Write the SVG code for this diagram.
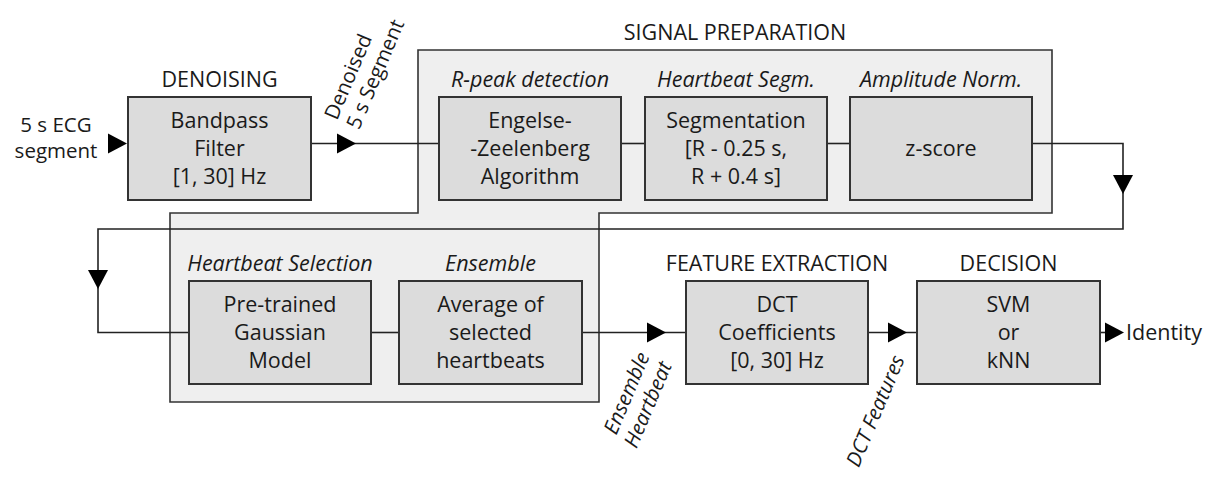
<svg xmlns="http://www.w3.org/2000/svg" width="1214" height="478" viewBox="0 0 1214 478">
<style>
text{font-family:"Open Sans","Liberation Sans",Arial,sans-serif;font-size:21.5px;fill:#1a1a1a}
.c{text-anchor:middle}
.i{font-style:italic}
.s{font-size:20.5px}
.box{fill:#dcdcdc;stroke:#333;stroke-width:2}
.panel{fill:#efefef;stroke:#333;stroke-width:1.6}
.ln{fill:none;stroke:#222;stroke-width:1.6}
.ar{fill:#000}
</style>
<defs>
<path id="tri" d="M0,-10 L19,0 L0,10 Z"/>
</defs>
<rect width="1214" height="478" fill="#fff"/>

<g id="panel-signal-preparation">
<polygon class="panel" points="418,50 1052,50 1052,213 599,213 599,402 170,402 170,213 418,213"/>
<text class="c" x="735" y="40">SIGNAL PREPARATION</text>
</g>

<g id="connectors">
<path class="ln" d="M311,143.5 H439"/>
<path class="ln" d="M621,143.5 H645"/>
<path class="ln" d="M827,143.5 H850"/>
<path class="ln" d="M1032,143.5 H1123 V229 H98 V332.5 H189"/>
<path class="ln" d="M371,332.5 H399"/>
<path class="ln" d="M582,332.5 H686"/>
<path class="ln" d="M868,332.5 H917"/>
<path class="ln" d="M1100,332.5 H1106"/>
<use href="#tri" class="ar" transform="translate(108,143.5)"/>
<use href="#tri" class="ar" transform="translate(337,143.5)"/>
<use href="#tri" class="ar" transform="translate(1123,175) rotate(90)"/>
<use href="#tri" class="ar" transform="translate(98,270) rotate(90)"/>
<use href="#tri" class="ar" transform="translate(647,332.5)"/>
<use href="#tri" class="ar" transform="translate(888,332.5)"/>
<use href="#tri" class="ar" transform="translate(1105,332.5)"/>
<text class="s" transform="translate(337,121) rotate(-67)"><tspan x="0" y="0">Denoised</tspan><tspan x="0" y="24">5 s Segment</tspan></text>
<text class="i s" text-anchor="end" transform="translate(650,356) rotate(-67)"><tspan x="0" y="0">Ensemble</tspan><tspan x="0" y="24">Heartbeat</tspan></text>
<text class="i s" text-anchor="end" transform="translate(905,359) rotate(-67)">DCT Features</text>
</g>

<g id="input">
<text class="c s" x="56" y="132">5 s ECG</text>
<text class="c s" x="56" y="158">segment</text>
</g>

<g id="denoising">
<text class="c" x="219.5" y="87">DENOISING</text>
<rect class="box" x="128" y="97" width="183" height="103"/>
<text class="c" x="219.5" y="128">Bandpass</text>
<text class="c" x="219.5" y="156">Filter</text>
<text class="c" x="219.5" y="184">[1, 30] Hz</text>
</g>

<g id="rpeak">
<text class="c i" x="530" y="87">R-peak detection</text>
<rect class="box" x="439" y="97" width="182" height="103"/>
<text class="c" x="530" y="128">Engelse-</text>
<text class="c" x="530" y="156">-Zeelenberg</text>
<text class="c" x="530" y="184">Algorithm</text>
</g>

<g id="segmentation">
<text class="c i" x="736" y="87">Heartbeat Segm.</text>
<rect class="box" x="645" y="97" width="182" height="103"/>
<text class="c" x="736" y="128">Segmentation</text>
<text class="c" x="736" y="156">[R - 0.25 s,</text>
<text class="c" x="736" y="184">R + 0.4 s]</text>
</g>

<g id="zscore">
<text class="c i" x="941" y="87">Amplitude Norm.</text>
<rect class="box" x="850" y="97" width="182" height="103"/>
<text class="c" x="941" y="156">z-score</text>
</g>

<g id="selection">
<text class="c i" x="280" y="271">Heartbeat Selection</text>
<rect class="box" x="189" y="281" width="182" height="103"/>
<text class="c" x="280" y="312">Pre-trained</text>
<text class="c" x="280" y="340">Gaussian</text>
<text class="c" x="280" y="368">Model</text>
</g>

<g id="ensemble">
<text class="c i" x="490.5" y="271">Ensemble</text>
<rect class="box" x="399" y="281" width="183" height="103"/>
<text class="c" x="490.5" y="312">Average of</text>
<text class="c" x="490.5" y="340">selected</text>
<text class="c" x="490.5" y="368">heartbeats</text>
</g>

<g id="feature-extraction">
<text class="c" x="777" y="271">FEATURE EXTRACTION</text>
<rect class="box" x="686" y="281" width="182" height="103"/>
<text class="c" x="777" y="312">DCT</text>
<text class="c" x="777" y="340">Coefficients</text>
<text class="c" x="777" y="368">[0, 30] Hz</text>
</g>

<g id="decision">
<text class="c" x="1008.5" y="271">DECISION</text>
<rect class="box" x="917" y="281" width="183" height="103"/>
<text class="c" x="1008.5" y="312">SVM</text>
<text class="c" x="1008.5" y="340">or</text>
<text class="c" x="1008.5" y="368">kNN</text>
</g>

<g id="output">
<text x="1126" y="340">Identity</text>
</g>
</svg>
